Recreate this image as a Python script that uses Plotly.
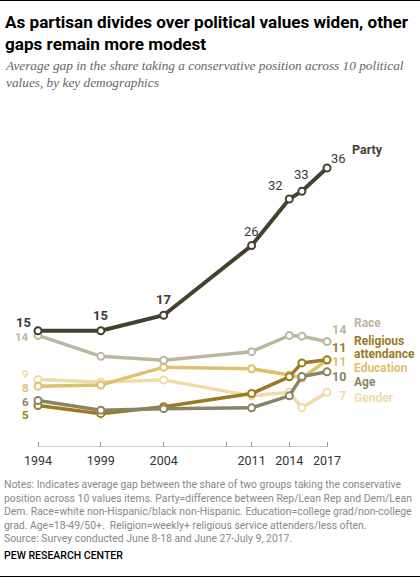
import plotly.graph_objects as go

years = [1994, 1999, 2004, 2011, 2014, 2015, 2017]
party = [15, 15, 17, 26, 32, 33, 36]
race = [14.4, 11.7, 11.2, 12.3, 14.4, 14.3, 13.6]
religious = [5.35, 4.3, 5.2, 6.9, 9.05, 10.85, 11.25]
education = [7.85, 8.0, 10.3, 10.1, 9.3, 8.9, 11.2]
age = [6.0, 4.75, 4.95, 5.05, 6.6, 9.1, 9.7]
gender = [8.7, 8.4, 8.65, 6.6, 7.05, 5.05, 7.05]

tick_years = [1994, 1999, 2004, 2009, 2011, 2014, 2017]
tick_text = ["1994", "1999", "2004", "", "2011", "2014", "2017"]

C_PARTY = "#46412f"
C_RACE = "#bdb69e"
C_REL = "#9b7a22"
C_EDU = "#e0c06c"
C_AGE = "#8a8466"
C_GEN = "#efdcaa"

W, H = 420, 578
MT, MB = 137, 131
PH = H - MT - MB


def py(px):
    return (H - MB - px) / PH


def pxx(px):
    return px / W


fig = go.Figure()

series = [
    ("Gender", gender, C_GEN, 3.5),
    ("Education", education, C_EDU, 3.5),
    ("Race", race, C_RACE, 3.5),
    ("Religious attendance", religious, C_REL, 3.5),
    ("Age", age, C_AGE, 3.5),
    ("Party", party, C_PARTY, 4),
]
for name, vals, col, lw in series:
    fig.add_trace(go.Scatter(
        x=years, y=vals, mode="lines+markers", name=name,
        line=dict(color=col, width=lw),
        marker=dict(size=7, color="white", line=dict(color=col, width=2)),
        hoverinfo="skip", showlegend=False, cliponaxis=False,
    ))

ann = []
LBL_FONT = "Roboto"

# Party value labels
party_off = [(-15, 8), (0, 15), (0, 16), (0, 14), (-14, 14), (0, 17), (11, 10)]
for i, (yr, v, (dx, dy)) in enumerate(zip(years, party, party_off)):
    txt = "<b>%d</b>" % round(v) if i < 3 else "%d" % round(v)
    ann.append(dict(x=yr, y=v, xref="x", yref="y", text=txt,
                    showarrow=False, xshift=dx, yshift=dy,
                    font=dict(family=LBL_FONT, size=13, color="#3a3a3a")))
ann.append(dict(x=pxx(350), y=py(149), xref="paper", yref="paper", text="<b>Party</b>",
                showarrow=False, xanchor="left", yanchor="middle",
                font=dict(family=LBL_FONT, size=12.5, color=C_PARTY)))

# Left start labels (1994)
left = [(race, C_RACE, -2), (gender, C_GEN, 5.5), (education, C_EDU, -2.3),
        (age, C_AGE, -1), (religious, C_REL, -9)]
for vals, col, dy in left:
    ann.append(dict(x=years[0], y=vals[0], xref="x", yref="y",
                    text="<b>%d</b>" % round(vals[0]), showarrow=False,
                    xanchor="right", xshift=-8, yshift=dy, borderpad=0,
                    font=dict(family=LBL_FONT, size=11.5, color=col)))

# Right end labels (2017)
right = [(race, C_RACE, 12), (religious, C_REL, 12), (education, C_EDU, -1.5),
         (age, C_AGE, -5), (gender, C_GEN, -3)]
for vals, col, dy in right:
    ann.append(dict(x=years[-1], y=vals[-1], xref="x", yref="y",
                    text="<b>%d</b>" % round(vals[-1]), showarrow=False,
                    xanchor="right", xshift=21, yshift=dy,
                    font=dict(family=LBL_FONT, size=12.5, color=col)))

names = [("Race", C_RACE, 323), ("Religious", C_REL, 341), ("attendance", C_REL, 354),
         ("Education", C_EDU, 367.5), ("Age", C_AGE, 382), ("Gender", C_GEN, 397.5)]
for txt, col, ypx in names:
    ann.append(dict(x=pxx(352), y=py(ypx), xref="paper", yref="paper",
                    text="<b>%s</b>" % txt, showarrow=False,
                    xanchor="left", yanchor="middle", align="left",
                    font=dict(family=LBL_FONT, size=12, color=col)))

# Title & subtitle
ann.append(dict(x=pxx(3), y=py(10), xref="paper", yref="paper",
                text="<b>As partisan divides over political values widen, other<br>gaps remain more modest</b>",
                showarrow=False, xanchor="left", yanchor="top", align="left",
                font=dict(family="Roboto", size=17.1, color="#000")))
ann.append(dict(x=pxx(3), y=py(56), xref="paper", yref="paper",
                text="<i>Average gap in the share taking a conservative position across 10 political<br>values, by key demographics</i>",
                showarrow=False, xanchor="left", yanchor="top", align="left",
                font=dict(family="Liberation Serif", size=13.3, color="#666")))

notes = ("Notes: Indicates average gap between the share of two groups taking the conservative<br>"
         "position across 10 values items. Party=difference between Rep/Lean Rep and Dem/Lean<br>"
         "Dem. Race=white non-Hispanic/black non-Hispanic. Education=college grad/non-college<br>"
         "grad. Age=18-49/50+.  Religion=weekly+ religious service attenders/less often.<br>"
         "Source: Survey conducted June 8-18 and June 27-July 9, 2017.")
ann.append(dict(x=pxx(2), y=py(476), xref="paper", yref="paper", text=notes,
                showarrow=False, xanchor="left", yanchor="top", align="left",
                font=dict(family="Roboto", size=10.4, color="#888")))
ann.append(dict(x=pxx(2), y=py(555), xref="paper", yref="paper",
                text="PEW RESEARCH CENTER", showarrow=False,
                xanchor="left", yanchor="middle",
                font=dict(family="Roboto", size=10.5, color="#000", weight=500)))

shapes = [
    dict(type="line", xref="x", yref="y", x0=years[0], x1=years[-1], y0=0, y1=0,
         line=dict(color="#9a9a9a", width=1)),
    dict(type="line", xref="paper", yref="paper", x0=0, x1=1, y0=py(0.5), y1=py(0.5),
         line=dict(color="#000", width=1)),
    dict(type="line", xref="paper", yref="paper", x0=0, x1=1, y0=py(576.5), y1=py(576.5),
         line=dict(color="#000", width=1)),
]

x0 = 1994 - 38 / 12.566
x1 = x0 + W / 12.566

fig.update_layout(
    width=W, height=H,
    margin=dict(l=0, r=0, t=MT, b=MB),
    paper_bgcolor="white", plot_bgcolor="white",
    xaxis=dict(range=[x0, x1], tickvals=tick_years, ticktext=tick_text,
               ticks="inside", ticklen=5, tickcolor="#9a9a9a", tickwidth=1,
               ticklabelstandoff=4,
               showgrid=False, zeroline=False, showline=False,
               tickfont=dict(family="Roboto", size=12.5, color="#333")),
    yaxis=dict(range=[0, 40], visible=False, showgrid=False, zeroline=False),
    annotations=ann, shapes=shapes,
)

fig.write_html("out.html")
